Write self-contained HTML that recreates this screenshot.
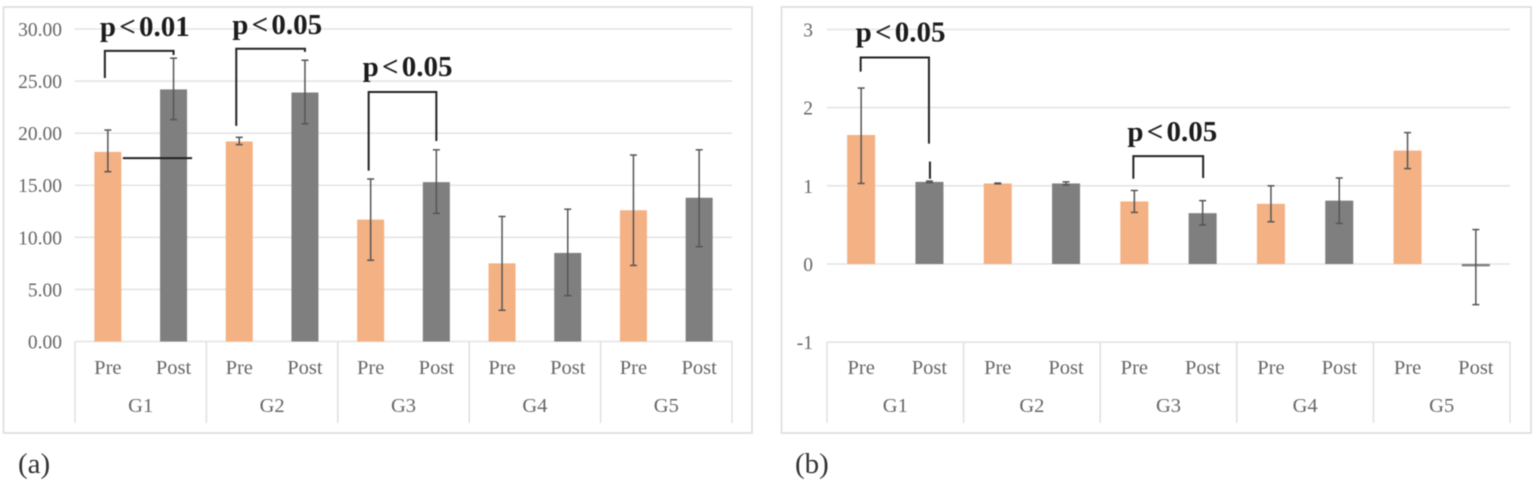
<!DOCTYPE html>
<html><head><meta charset="utf-8"><title>Pre/Post charts</title>
<style>
html,body{margin:0;padding:0;background:#fff;width:1535px;height:485px;overflow:hidden}
svg{display:block;filter:blur(0.5px)}
text{font-family:"Liberation Serif",serif}
</style></head>
<body>
<svg id="fig" xmlns="http://www.w3.org/2000/svg" width="1535" height="485" viewBox="0 0 1535 485"></svg>
<script>
const groups = ['G1','G2','G3','G4','G5'];
const phases = ['Pre','Post'];

const aTicks = [0,5,10,15,20,25,30];
const aTickLabels = ['0.00','5.00','10.00','15.00','20.00','25.00','30.00'];
const aValues = [18.2,24.2,19.2,23.9,11.7,15.3,7.5,8.5,12.6,13.8];
const aErrHigh = [20.3,27.2,19.6,27.0,15.6,18.4,12.0,12.7,17.9,18.4];
const aErrLow = [16.3,21.3,18.9,20.9,7.8,12.3,3.0,4.4,7.3,9.1];

const bTicks = [-1,0,1,2,3];
const bTickLabels = ['-1','0','1','2','3'];
const bValues = [1.65,1.05,1.03,1.03,0.80,0.65,0.77,0.81,1.45,-0.03];
const bErrHigh = [2.25,1.06,1.035,1.05,0.94,0.81,1.00,1.10,1.68,0.44];
const bErrLow = [1.03,1.04,1.025,1.01,0.66,0.50,0.54,0.52,1.22,-0.52];

const NS = 'http://www.w3.org/2000/svg';
const root = document.getElementById('fig');
function mk(tag, attrs, parent, txt){
  const e = document.createElementNS(NS, tag);
  for (const k in attrs) e.setAttribute(k, attrs[k]);
  if (txt !== undefined) e.textContent = txt;
  (parent || root).appendChild(e);
  return e;
}
const GRID = '#e4e4e4', LAB = '#666666', ORANGE = '#f4b183', GRAY = '#7f7f7f', ERR = '#555555', INK = '#222222';

function drawChart(cfg){
  const g = mk('g', {}, root);
  
  
  const frame = mk('rect', {x:cfg.fx, y:7, width:cfg.fw, height:426, fill:'#fff', stroke:'#dcdcdc', 'stroke-width':1.6}, g);
  
  
  const n = cfg.values.length;
  const step = (cfg.x1 - cfg.x0) / n;
  const xc = i => cfg.x0 + step * (i + 0.5);
  const y = v => cfg.yZero - (v - cfg.zeroVal) * cfg.pxPerUnit;

  // gridlines and tick labels
  cfg.ticks.forEach((t, i) => {
    const line = mk('line', {x1:cfg.x0, x2:cfg.x1, y1:y(t), y2:y(t), stroke:GRID, 'stroke-width':1.6}, g);
    
    
    const lab = mk('text', {x:cfg.tickX, y:y(t)+7, 'text-anchor':'end', 'font-size':cfg.tickSize, fill:LAB, 'letter-spacing':cfg.tickSpace}, g, cfg.tickLabels[i]);
    
    
  });

  // bars and error bars
  cfg.values.forEach((v, i) => {
    const top = Math.min(y(v), y(0));
    const bar = mk('rect', {x:xc(i)-cfg.barW/2, y:top, width:cfg.barW, height:Math.max(Math.abs(y(v)-y(0)),1.2), fill:i%2?GRAY:ORANGE}, g);
    
    
  });
  cfg.values.forEach((v, i) => {
    const eg = mk('g', {stroke:ERR, 'stroke-width':1.5, fill:'none'}, g);
    
    
    const hi = y(cfg.high[i]), lo = y(cfg.low[i]), cx = xc(i);
    mk('line', {x1:cx, x2:cx, y1:hi, y2:lo}, eg);
    mk('line', {x1:cx-3.5, x2:cx+3.5, y1:hi, y2:hi}, eg);
    mk('line', {x1:cx-3.5, x2:cx+3.5, y1:lo, y2:lo}, eg);
  });

  // multi-level category axis
  const yTop = cfg.axisTop, yBot = 423;
  for (let k = 0; k <= groups.length; k++){
    const xd = cfg.x0 + step * 2 * k;
    const d = mk('line', {x1:xd, x2:xd, y1:yTop, y2:yBot, stroke:'#dedede', 'stroke-width':1.4}, g);
    
    
  }
  cfg.values.forEach((_, i) => {
    const t = mk('text', {x:xc(i), y:374, 'text-anchor':'middle', 'font-size':20.5, fill:LAB}, g, phases[i%2]);
    
    
  });
  groups.forEach((name, k) => {
    const t = mk('text', {x:cfg.x0 + step*(2*k+1), y:412, 'text-anchor':'middle', 'font-size':20.5, fill:LAB}, g, name);
    
    
  });

  // significance brackets (anchored to bar indices and value levels)
  cfg.brackets.forEach(b => {
    const x1 = xc(b.from) + b.dx1, x2 = xc(b.to) + b.dx2;
    const br = mk('polyline', {points:`${x1},${y(b.left)} ${x1},${y(b.top)} ${x2},${y(b.top)} ${x2},${y(b.right)}`, fill:'none', stroke:INK, 'stroke-width':2}, g);
    
    
    const t = mk('text', {x:x1 + b.tx, y:y(b.top) + b.ty, 'font-size':29, 'font-weight':'bold', fill:'#1c1c1c', 'word-spacing':-4}, g, b.label);
    
    
  });
  (cfg.extras || []).forEach(s => {
    const l = mk('line', {x1:xc(s.i1)+s.dx1, x2:xc(s.i2)+s.dx2, y1:y(s.v1), y2:y(s.v2), stroke:INK, 'stroke-width':2}, g);
    
    
  });

  const cap = mk('text', {x:cfg.capX, y:473, 'font-size':29, fill:'#333'}, root, cfg.caption);
  
  
}

drawChart({
  name:'chart-a', fx:3.5, fw:748.5, x0:75, x1:732, yZero:341.5, zeroVal:0, pxPerUnit:10.417,
  axisTop:341.5, tickX:62, tickSize:19.5, tickSpace:0, barW:27, capX:18, caption:'(a)',
  ticks:aTicks, tickLabels:aTickLabels, values:aValues, high:aErrHigh, low:aErrLow,
  brackets:[
    {from:0,to:1,dx1:-3,dx2:0,left:25.3,top:27.9,right:27.5,label:'p < 0.01',tx:-5,ty:-15},
    {from:2,to:3,dx1:-3,dx2:0,left:20.7,top:28.1,right:27.8,label:'p < 0.05',tx:-4,ty:-15},
    {from:4,to:5,dx1:-2,dx2:0,left:16.4,top:23.95,right:19.25,label:'p < 0.05',tx:-6,ty:-16}
  ],
  extras:[{i1:0,i2:1,dx1:15,dx2:18.5,v1:17.6,v2:17.6}]
});

drawChart({
  name:'chart-b', fx:781.5, fw:749.5, x0:827, x1:1510, yZero:264, zeroVal:0, pxPerUnit:78.2,
  axisTop:342, tickX:813, tickSize:19.5, tickSpace:0, barW:28, capX:795, caption:'(b)',
  ticks:bTicks, tickLabels:bTickLabels, values:bValues, high:bErrHigh, low:bErrLow,
  brackets:[
    {from:0,to:1,dx1:-0.5,dx2:-0.5,left:2.46,top:2.64,right:1.54,label:'p < 0.05',tx:-5,ty:-16},
    {from:4,to:5,dx1:-1,dx2:0.5,left:1.09,top:1.38,right:1.10,label:'p < 0.05',tx:-6,ty:-15}
  ],
  extras:[{i1:1,i2:1,dx1:0.5,dx2:0.5,v1:1.31,v2:1.09}]
});
</script>
</body></html>
